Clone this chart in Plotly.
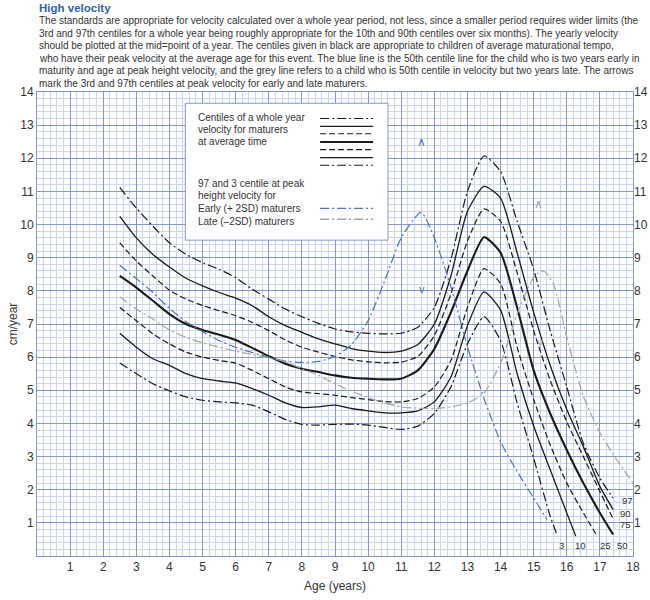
import plotly.graph_objects as go

# ---------------- data ----------------
ages = [2.5, 3, 3.5, 4, 4.5, 5, 5.5, 6, 6.5, 7, 7.5, 8, 8.5, 9, 9.5, 10, 10.5,
        11, 11.5, 12, 12.5, 13, 13.5, 14, 14.5, 15, 15.5, 16, 16.5, 17, 17.4]

c97 = [11.12, 10.5, 9.95, 9.45, 9.1, 8.85, 8.65, 8.4, 8.05, 7.75, 7.45, 7.22, 7.02, 6.85, 6.76, 6.72, 6.7,
       6.72, 6.9, 7.5, 8.95, 11.0, 12.07, 11.6, 10.1, 8.65, 6.8, 5.1, 3.4, 2.35, 1.75]
c90 = [10.25, 9.6, 9.1, 8.72, 8.38, 8.15, 7.95, 7.78, 7.55, 7.22, 6.95, 6.75, 6.55, 6.4, 6.26, 6.18, 6.14,
       6.18, 6.38, 7.0, 8.45, 10.4, 11.15, 10.8, 9.15, 7.35, 5.75, 4.42, 3.3, 2.1, 1.4]
c75 = [9.45, 8.9, 8.45, 8.02, 7.75, 7.56, 7.4, 7.25, 7.05, 6.8, 6.52, 6.3, 6.15, 6.02, 5.92, 5.86, 5.83,
       5.85, 6.02, 6.65, 7.9, 9.5, 10.47, 10.1, 8.55, 6.8, 5.3, 4.05, 3.0, 1.95, 1.12]
c50 = [8.45, 8.1, 7.7, 7.3, 7.0, 6.82, 6.68, 6.52, 6.28, 6.03, 5.8, 5.65, 5.55, 5.45, 5.38, 5.35, 5.33,
       5.35, 5.6, 6.25, 7.35, 8.6, 9.62, 9.15, 7.5, 5.6, 4.3, 3.2, 2.2, 1.3, 0.65]
ages25 = ages[:-2] + [16.92]
c25 = [7.5, 7.1, 6.7, 6.4, 6.15, 6.0, 5.9, 5.82, 5.6, 5.35, 5.1, 4.95, 4.9, 4.85, 4.78, 4.72, 4.66,
       4.65, 4.75, 5.1, 5.9, 7.5, 8.67, 8.22, 6.3, 4.72, 3.35, 2.2, 1.3, 0.6]
ages10 = ages[:-4] + [16.0, 16.27]
c10 = [6.72, 6.3, 5.95, 5.75, 5.5, 5.35, 5.28, 5.22, 5.05, 4.85, 4.62, 4.48, 4.5, 4.55, 4.45, 4.38, 4.32,
       4.32, 4.38, 4.65, 5.4, 6.95, 7.97, 7.42, 5.5, 3.92, 2.6, 1.3, 0.6]
ages3 = ages[:-5] + [15.5, 15.72]
c3 = [5.82, 5.5, 5.2, 4.98, 4.8, 4.7, 4.65, 4.62, 4.55, 4.35, 4.12, 3.97, 3.95, 3.97, 3.98, 3.95, 3.88,
      3.82, 3.92, 4.3, 5.1, 6.4, 7.22, 6.5, 4.62, 2.95, 1.2, 0.6]

early_ages = [2.5, 3, 3.5, 4, 4.5, 5, 5.5, 6, 6.5, 7, 7.5, 8, 8.5, 9, 9.5, 10, 10.5,
              11, 11.6, 12, 12.5, 13, 13.5, 14, 14.5, 15, 15.4]
early = [8.77, 8.37, 7.95, 7.47, 7.07, 6.77, 6.5, 6.3, 6.14, 6.0, 5.88, 5.84, 5.87, 6.02, 6.38, 7.1, 8.3,
         9.6, 10.37, 9.6, 8.12, 6.32, 4.75, 3.45, 2.55, 1.75, 1.1]

late_ages = [2.5, 3, 3.5, 4, 4.5, 5, 5.5, 6, 6.5, 7, 7.5, 8, 8.5, 9, 9.5, 10, 10.5,
             11, 11.5, 12, 12.5, 13, 13.5, 14, 14.5, 15, 15.3, 15.6, 16, 16.5, 17, 17.5, 18]
late = [7.82, 7.45, 7.15, 6.82, 6.6, 6.43, 6.3, 6.18, 6.08, 5.98, 5.86, 5.65, 5.45, 5.2, 4.97, 4.78, 4.62,
        4.5, 4.46, 4.45, 4.5, 4.62, 4.92, 5.82, 7.3, 8.4, 8.6, 8.2, 6.6, 4.82, 3.72, 2.92, 2.2]

# arrows marking 97th / 3rd centile at peak velocity
arrow_up_x = [11.62, 15.14]
arrow_up_y = [12.46, 10.6]
arrow_dn_x = [11.62, 15.2]
arrow_dn_y = [8.02, 6.42]

x_ticks = list(range(1, 19))
y_ticks = list(range(1, 15))

centile_names = ["97", "90", "75", "50", "25", "10", "3"]

# ---------------- styles ----------------
BLACK = "#1a1a1a"
BLUE = "#4f73ad"
GREY = "#a3a3a3"
MAJOR = "#8597c9"
MINOR = "#cdd6ee"
TXT = "#333333"
FONT = "Liberation Sans, Arial, sans-serif"
DASHDOT = "9px,3px,2px,3px"
DASH = "6px,3px"

fig = go.Figure()

series = [
    (ages, c97, DASHDOT, 1.2),
    (ages, c90, "solid", 1.3),
    (ages, c75, DASH, 1.2),
    (ages, c50, "solid", 2.1),
    (ages25, c25, DASH, 1.2),
    (ages10, c10, "solid", 1.3),
    (ages3, c3, DASHDOT, 1.2),
]
for (xs, ys, dash, w), name in zip(series, centile_names):
    fig.add_trace(go.Scatter(x=xs, y=ys, mode="lines", name=name,
                             line=dict(color=BLACK, width=w, dash=dash, shape="spline", smoothing=0.6),
                             showlegend=False, hoverinfo="skip"))

fig.add_trace(go.Scatter(x=early_ages, y=early, mode="lines",
                         line=dict(color=BLUE, width=1.2, dash=DASHDOT, shape="spline", smoothing=0.6),
                         showlegend=False, hoverinfo="skip"))
fig.add_trace(go.Scatter(x=late_ages, y=late, mode="lines",
                         line=dict(color=GREY, width=1.2, dash=DASHDOT, shape="spline", smoothing=0.6),
                         showlegend=False, hoverinfo="skip"))

# arrows as text marks
fig.add_trace(go.Scatter(x=arrow_up_x, y=arrow_up_y, mode="text", text=["∧", "∧"],
                         textfont=dict(color=[BLUE, GREY], size=12, family=FONT),
                         showlegend=False, hoverinfo="skip"))
fig.add_trace(go.Scatter(x=arrow_dn_x, y=arrow_dn_y, mode="text", text=["v", "v"],
                         textfont=dict(color=[BLUE, GREY], size=11, family=FONT),
                         showlegend=False, hoverinfo="skip"))

# invisible trace for right axis
fig.add_trace(go.Scatter(x=[0], y=[0], yaxis="y2", mode="markers", marker=dict(opacity=0),
                         showlegend=False, hoverinfo="skip"))

# ---------------- legend box ----------------
fig.add_shape(type="rect", x0=4.48, x1=10.6, y0=9.53, y1=13.66, xref="x", yref="y",
              fillcolor="white", line=dict(color=MAJOR, width=1), layer="above")
key_y = [13.2, 12.96, 12.74, 12.49, 12.26, 12.02, 11.79]
for (xs, ys, dash, w), ky in zip(series, key_y):
    fig.add_shape(type="line", x0=8.55, x1=10.15, y0=ky, y1=ky, xref="x", yref="y",
                  line=dict(color=BLACK, width=w, dash=dash), layer="above")
fig.add_shape(type="line", x0=8.55, x1=10.15, y0=10.49, y1=10.49, xref="x", yref="y",
              line=dict(color=BLUE, width=1.3, dash=DASHDOT), layer="above")
fig.add_shape(type="line", x0=8.55, x1=10.15, y0=10.16, y1=10.16, xref="x", yref="y",
              line=dict(color=GREY, width=1.3, dash=DASHDOT), layer="above")

leg_lines = [("Centiles of a whole year", 13.24), ("velocity for maturers", 12.86),
             ("at average time", 12.5), ("97 and 3 centile at peak", 11.25),
             ("height velocity for", 10.87), ("Early (+ 2SD) maturers", 10.49),
             ("Late (\u20132SD) maturers", 10.1)]
for t, yy in leg_lines:
    fig.add_annotation(x=4.8, y=yy, xref="x", yref="y", text=t, showarrow=False,
                       xanchor="left", yanchor="middle", font=dict(size=10, color=TXT, family=FONT))

# centile labels near the ends
lab = [("97", 17.82, 1.68), ("90", 17.78, 1.28), ("75", 17.76, 0.95),
       ("3", 15.85, 0.31), ("10", 16.4, 0.31), ("25", 17.18, 0.31), ("50", 17.67, 0.31)]
for t, xx, yy in lab:
    fig.add_annotation(x=xx, y=yy, xref="x", yref="y", text=t, showarrow=False,
                       xanchor="center", yanchor="middle", font=dict(size=9.5, color=TXT, family=FONT))

# ---------------- header text ----------------
fig.add_annotation(x=0, y=(556 - 8) / 464, xref="paper", yref="paper", text="<b>High velocity</b>",
                   showarrow=False, xanchor="left", yanchor="middle",
                   font=dict(size=11.5, color="#2f63a8", family=FONT))
para = [
    "The standards are appropriate for velocity calculated over a whole year period, not less, since a smaller period requires wider limits (the",
    "3rd and 97th centiles for a whole year being roughly appropriate for the 10th and 90th centiles over six months). The yearly velocity",
    "should be plotted at the mid=point of a year. The centiles given in black are appropriate to children of average maturational tempo,",
    "who have their peak velocity at the average age for this event. The blue line is the 50th centile line for the child who is two years early in",
    "maturity and age at peak height velocity, and the grey line refers to a child who is 50th centile in velocity but two years late. The arrows",
    "mark the 3rd and 97th centiles at peak velocity for early and late maturers.",
]
py0 = 20.5
for i, line in enumerate(para):
    py = py0 + i * 12.6
    fig.add_annotation(x=0, y=(556 - py) / 464, xref="paper", yref="paper", text=line,
                       showarrow=False, xanchor="left", yanchor="middle",
                       font=dict(size=10, color=TXT, family=FONT))

# ---------------- axes ----------------
tf = dict(size=12, color=TXT, family=FONT)
fig.update_layout(
    width=650, height=600,
    margin=dict(l=37, r=17, t=92, b=44, autoexpand=False),
    paper_bgcolor="white", plot_bgcolor="white",
    xaxis=dict(range=[0, 18], tickvals=x_ticks, ticktext=[str(v) for v in x_ticks],
               automargin=False, showline=True, linecolor=MAJOR, linewidth=1, mirror=True,
               showgrid=True, gridcolor=MAJOR, gridwidth=1, zeroline=False, ticks="", tickfont=tf,
               minor=dict(dtick=0.2, tick0=0, showgrid=True, gridcolor=MINOR, gridwidth=1),
               title=dict(text="Age (years)", font=tf, standoff=8)),
    yaxis=dict(range=[0, 14], tickvals=y_ticks, ticktext=[str(v) for v in y_ticks],
               automargin=False, showline=True, linecolor=MAJOR, linewidth=1, mirror=True,
               showgrid=True, gridcolor=MAJOR, gridwidth=1, zeroline=False, ticks="", tickfont=tf,
               minor=dict(dtick=0.2, tick0=0, showgrid=True, gridcolor=MINOR, gridwidth=1),
               title=dict(text="cm/year", font=tf, standoff=0)),
    yaxis2=dict(range=[0, 14], tickvals=y_ticks, ticktext=[str(v) for v in y_ticks],
                overlaying="y", side="right", showgrid=False, zeroline=False, showline=False,
                automargin=False, ticks="", tickfont=tf),
    showlegend=False,
)

fig.write_html("out.html", config={"displayModeBar": False},
               post_script="document.body.style.margin='0px';document.body.style.overflow='hidden';")
